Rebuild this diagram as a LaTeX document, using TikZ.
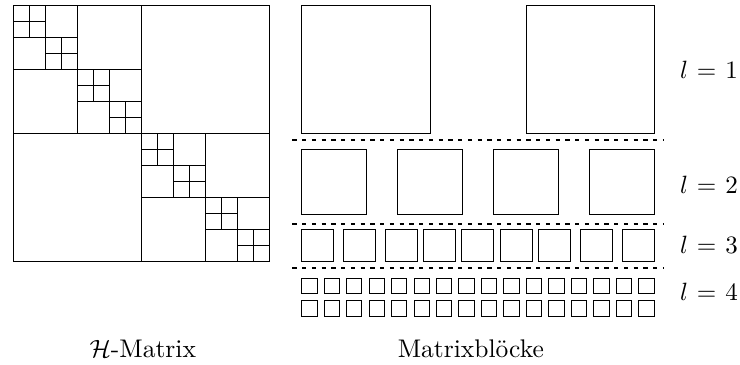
\documentclass[tikz,border=0pt]{standalone}
\usepackage{amsmath}
\begin{document}
\begin{tikzpicture}[x=0.4pt,y=-0.4pt,
  blk/.style={draw=black,line width=0.4pt},
  sep/.style={draw=black,line width=0.8pt,dash pattern=on 1.7pt off 2.2pt},
  lvl/.style={anchor=base west,inner sep=0pt},
  captxt/.style={anchor=base,inner sep=0pt,font=\fontsize{10.2}{12}\selectfont}]
\useasboundingbox (0,0) rectangle (740,365);
% H-matrix
\begin{scope}[shift={(13.5,5.5)}]
  \draw[blk] (0,0) rectangle (256,256);
  \foreach \s/\n in {256/0,128/1,64/3,32/7}{
    \foreach \i in {0,...,\n}{
      \draw[blk] ({\i*\s+\s/2},{\i*\s}) -- ({\i*\s+\s/2},{\i*\s+\s});
      \draw[blk] ({\i*\s},{\i*\s+\s/2}) -- ({\i*\s+\s},{\i*\s+\s/2});
    }
  }
\end{scope}
% level 1
\draw[blk] (301.7,5.7) rectangle ++(128.3,128.3);
\draw[blk] (526,5.7) rectangle ++(128.3,128.3);
% level 2
\foreach \x in {301.7,397.7,493.7,589.7}
  \draw[blk] (\x,150) rectangle ++(64.3,64.3);
% level 3
\foreach \x in {301.7,343.3,385,423.3,461.7,500.3,538.7,580.3,622}
  \draw[blk] (\x,230) rectangle ++(32.2,32);
% level 4
\foreach \k in {0,...,15}{
  \draw[blk] ({301.7+\k*22.47},278.5) rectangle ++(15.3,15.3);
  \draw[blk] ({301.7+\k*22.47},301) rectangle ++(15.3,15.3);
}
% separators
\coordinate (s1a) at (292.3,140);   \coordinate (s1b) at (663.3,140);
\coordinate (s2a) at (292.3,224);   \coordinate (s2b) at (663.3,224);
\coordinate (s3a) at (292.3,268.3); \coordinate (s3b) at (663.3,268.3);
\draw[sep] (s1a) -- (s1b);
\draw[sep] (s2a) -- (s2b);
\draw[sep] (s3a) -- (s3b);
% labels
\node[lvl] (l1) at (679.5,78.3) {$l\mskip1.5mu=\mskip1.5mu1$};
\node[lvl] (l2) at (679.5,193.3) {$l\mskip1.5mu=\mskip1.5mu2$};
\node[lvl] (l3) at (679.5,253.3) {$l\mskip1.5mu=\mskip1.5mu3$};
\node[lvl] (l4) at (679.5,301) {$l\mskip1.5mu=\mskip1.5mu4$};
\node[captxt] (hm) at (142.8,357.8) {$\mathcal{H}$-Matrix};
\node[captxt] (mb) at (470.8,357.5) {Matrixblöcke};
\end{tikzpicture}
\end{document}
